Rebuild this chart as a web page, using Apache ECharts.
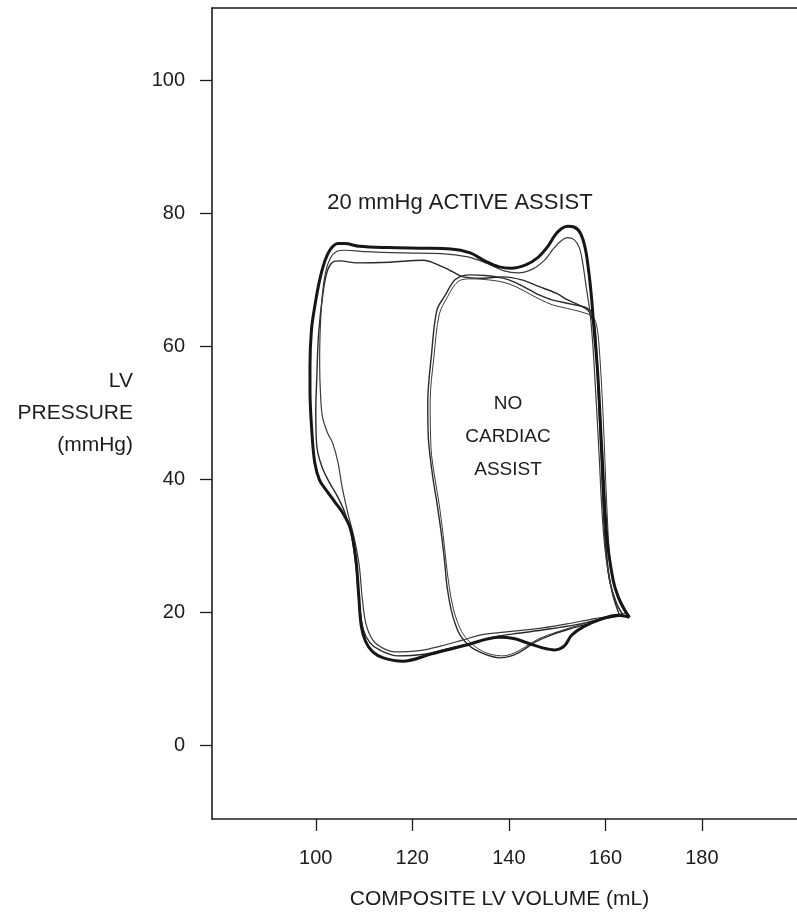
<!DOCTYPE html>
<html>
<head>
<meta charset="utf-8">
<script src="https://cdn.jsdelivr.net/npm/echarts@6.0.0/dist/echarts.min.js"></script>
<style>
  html, body { margin: 0; padding: 0; background: #ffffff; }
  #chart { width: 797px; height: 916px; }
</style>
</head>
<body>
<div id="chart"></div>
<script>
// ---- Data (LV volume mL, LV pressure mmHg) ----
const xTickValues = [100, 120, 140, 160, 180];
const yTickValues = [0, 20, 40, 60, 80, 100];

// Active assist, beat 1 (heavy outer loop)
const activeAssistBeat1 = [
  [165.0,19.2],[164.0,20.3],[162.6,22.4],[161.6,24.8],[160.3,31.3],[159.3,43.8],[158.4,56.0],[157.6,63.0],
  [157.1,67.5],[156.5,71.5],[155.8,74.8],[154.8,77.0],[153.5,77.9],[152.2,78.0],[150.8,77.6],[149.5,76.6],
  [148.0,74.9],[146.0,73.3],[143.5,72.2],[140.5,71.7],[138.0,71.9],[135.0,72.8],[132.0,74.0],[128.0,74.6],
  [122.0,74.7],[115.0,74.8],[109.0,75.0],[106.0,75.4],[104.6,75.4],[103.0,74.5],[101.8,72.6],[100.8,69.9],
  [99.8,66.0],[99.1,62.4],[98.8,57.0],[98.8,53.4],[99.2,47.0],[99.8,42.4],[100.8,39.8],[102.2,38.3],
  [104.0,36.5],[105.6,34.9],[107.2,32.5],[108.3,28.0],[108.9,22.5],[109.4,18.0],[110.3,15.6],[111.8,14.0],
  [114.0,13.1],[118.0,12.6],[124.0,13.7],[131.0,15.0],[138.0,16.2],[141.0,16.0],[144.0,15.3],[147.0,14.6],
  [149.5,14.3],[151.5,14.9],[153.0,16.5],[155.5,17.8],[159.0,18.9],[162.5,19.5],[165.0,19.2]
];

// Active assist, beat 2 (thin inner loop)
const activeAssistBeat2 = [
  [163.6,19.6],[162.4,21.2],[160.8,25.0],[159.6,32.0],[158.6,45.0],[157.6,58.0],[156.9,64.5],[156.0,69.0],
  [155.3,72.5],[154.6,74.8],[153.5,76.0],[152.2,76.3],[150.8,75.8],[149.2,74.6],[147.5,73.0],[145.0,71.6],
  [142.0,71.0],[139.0,71.3],[135.5,72.4],[131.5,73.4],[126.0,73.9],[118.0,74.0],[110.0,74.2],[106.0,74.4],
  [104.3,74.2],[103.0,73.2],[102.0,71.0],[101.3,67.2],[100.9,62.0],[100.8,57.5],[101.0,52.5],[101.4,49.3],
  [102.4,47.0],[103.5,45.4],[104.6,42.5],[105.4,39.0],[106.6,35.0],[108.0,31.0],[109.0,27.0],[109.6,22.3],
  [110.4,18.2],[111.8,15.8],[113.8,14.6],[116.5,14.0],[121.5,14.2],[126.0,14.9],[130.5,15.8],[134.5,16.6],
  [138.0,16.9],[142.0,17.2],[147.0,17.6],[152.0,18.2],[157.0,18.9],[161.0,19.4],[163.6,19.6]
];

// Transition beat (medium line)
const transitionBeat = [
  [163.0,19.4],[161.4,23.0],[160.0,30.0],[159.0,45.0],[158.2,58.0],[157.6,63.0],[156.6,65.2],[155.3,65.9],
  [152.0,67.0],[149.9,67.9],[146.0,69.0],[142.9,69.9],[138.8,70.4],[134.6,70.2],[130.5,70.4],[128.3,71.2],
  [126.3,71.9],[122.2,72.9],[115.3,72.6],[108.5,72.5],[105.0,72.8],[103.5,72.6],[102.5,71.5],[101.6,68.5],
  [100.6,62.0],[100.2,55.0],[100.0,50.0],[100.2,45.0],[101.2,42.0],[102.8,39.5],[104.4,37.5],[106.0,35.0],
  [107.4,31.5],[108.3,27.0],[108.9,22.0],[109.8,17.5],[111.2,15.4],[113.2,14.3],[117.0,13.4],[122.0,13.6],
  [128.0,14.6],[134.0,15.6],[138.0,16.4],[142.0,16.8],[148.0,17.4],[154.0,18.1],[159.0,18.9],[163.0,19.4]
];

// No cardiac assist, beat 1
const noAssistBeat1 = [
  [163.6,19.6],[162.0,21.8],[160.6,26.0],[159.8,35.0],[159.0,48.0],[158.3,58.0],[157.9,62.5],[157.2,65.0],
  [156.2,65.7],[153.0,66.3],[149.1,66.9],[146.5,67.6],[144.4,68.4],[141.5,69.5],[138.8,70.2],[135.0,70.6],
  [131.9,70.7],[129.8,70.4],[128.4,69.6],[126.8,67.6],[125.1,65.4],[124.0,58.9],[123.2,51.4],[123.3,46.5],
  [123.6,43.9],[124.3,40.0],[125.1,36.4],[126.1,31.3],[126.7,27.5],[127.2,23.8],[128.0,20.5],[128.8,18.4],
  [130.0,16.4],[132.0,14.8],[134.5,13.8],[136.5,13.3],[138.1,13.1],[140.5,13.4],[143.0,14.3],[145.5,15.5],
  [149.0,16.6],[153.3,17.6],[156.8,18.3],[160.0,19.0],[163.6,19.6]
];

// No cardiac assist, beat 2
const noAssistBeat2 = [
  [164.2,19.8],[162.6,22.0],[161.1,27.0],[160.3,36.0],[159.5,50.0],[158.7,60.0],[158.2,63.0],[157.5,64.3],
  [156.0,64.9],[153.0,65.5],[149.0,66.2],[146.5,67.0],[144.4,67.8],[141.5,68.9],[138.8,69.6],[135.0,70.0],
  [132.0,70.1],[130.0,69.9],[128.8,69.2],[127.3,67.4],[125.6,64.8],[124.5,58.5],[123.7,51.5],[123.8,46.0],
  [124.0,43.5],[124.7,40.0],[125.5,36.5],[126.4,31.5],[127.0,27.5],[127.6,24.0],[128.4,20.8],[129.3,18.6],
  [130.6,16.6],[132.5,15.1],[134.5,14.1],[136.5,13.6],[138.5,13.4],[141.0,13.8],[143.5,14.8],[146.0,15.9],
  [150.0,17.0],[154.0,17.9],[158.0,18.8],[161.0,19.4],[164.2,19.8]
];

const xAxisTitle = 'COMPOSITE LV VOLUME (mL)';
const yAxisTitle = 'LV\nPRESSURE\n(mmHg)';
const activeLabel = '20 mmHg ACTIVE ASSIST';
const noAssistLabel = 'NO\nCARDIAC\nASSIST';

// ---- Chart ----
const FONT = "'Liberation Sans', Arial, Helvetica, sans-serif";
const INK = '#1c1c1c';
const chart = echarts.init(document.getElementById('chart'), null, { renderer: 'canvas' });

function loop(name, data, width, color) {
  return {
    name, type: 'line', data, showSymbol: false, smooth: 0.35,
    lineStyle: { width, color }, silent: true, animation: false
  };
}

const axisLineStyle = { color: INK, width: 1.6 };

chart.setOption({
  backgroundColor: '#ffffff',
  animation: false,
  grid: { left: 212, top: 8, right: 0, bottom: 97, containLabel: false },
  xAxis: [{
    type: 'value', min: 78.5, max: 199.7, position: 'bottom',
    axisLine: { show: true, onZero: false, lineStyle: axisLineStyle },
    axisTick: { show: true, length: 12, customValues: xTickValues, lineStyle: { color: INK, width: 1.3 } },
    axisLabel: { customValues: xTickValues, margin: 29, fontSize: 20, color: INK, fontFamily: FONT },
    splitLine: { show: false },
    name: xAxisTitle, nameLocation: 'middle', nameGap: 70,
    nameTextStyle: { fontSize: 21, color: INK, fontFamily: FONT, padding: [0, 10, 0, 0] }
  }, {
    type: 'value', min: 78.5, max: 199.7, position: 'top',
    axisLine: { show: true, onZero: false, lineStyle: axisLineStyle },
    axisTick: { show: false }, axisLabel: { show: false }, splitLine: { show: false }
  }],
  yAxis: [{
    type: 'value', min: -11.13, max: 110.83, position: 'left',
    axisLine: { show: true, onZero: false, lineStyle: axisLineStyle },
    axisTick: { show: true, length: 12, customValues: yTickValues, lineStyle: { color: INK, width: 1.3 } },
    axisLabel: { customValues: yTickValues, margin: 27, fontSize: 20, color: INK, fontFamily: FONT },
    splitLine: { show: false },
    name: yAxisTitle, nameLocation: 'middle', nameRotate: 0, nameGap: 79,
    nameTextStyle: { fontSize: 21, color: INK, fontFamily: FONT, align: 'right', verticalAlign: 'middle', lineHeight: 32 }
  }],
  series: [
    loop('No assist 2', noAssistBeat2, 1.0, '#3a3a3a'),
    loop('No assist 1', noAssistBeat1, 1.4, '#2a2a2a'),
    loop('Transition', transitionBeat, 1.4, '#2a2a2a'),
    loop('Active assist 2', activeAssistBeat2, 1.2, '#3a3a3a'),
    loop('Active assist 1', activeAssistBeat1, 3.0, '#161616')
  ],
  graphic: [
    { type: 'text', x: 460, y: 203, style: { text: activeLabel, fontSize: 22, fontFamily: FONT, fill: INK, align: 'center', verticalAlign: 'middle' } },
    { type: 'text', x: 508, y: 437, style: { text: noAssistLabel, fontSize: 19, lineHeight: 33, fontFamily: FONT, fill: INK, align: 'center', verticalAlign: 'middle' } }
  ]
});
</script>
</body>
</html>
